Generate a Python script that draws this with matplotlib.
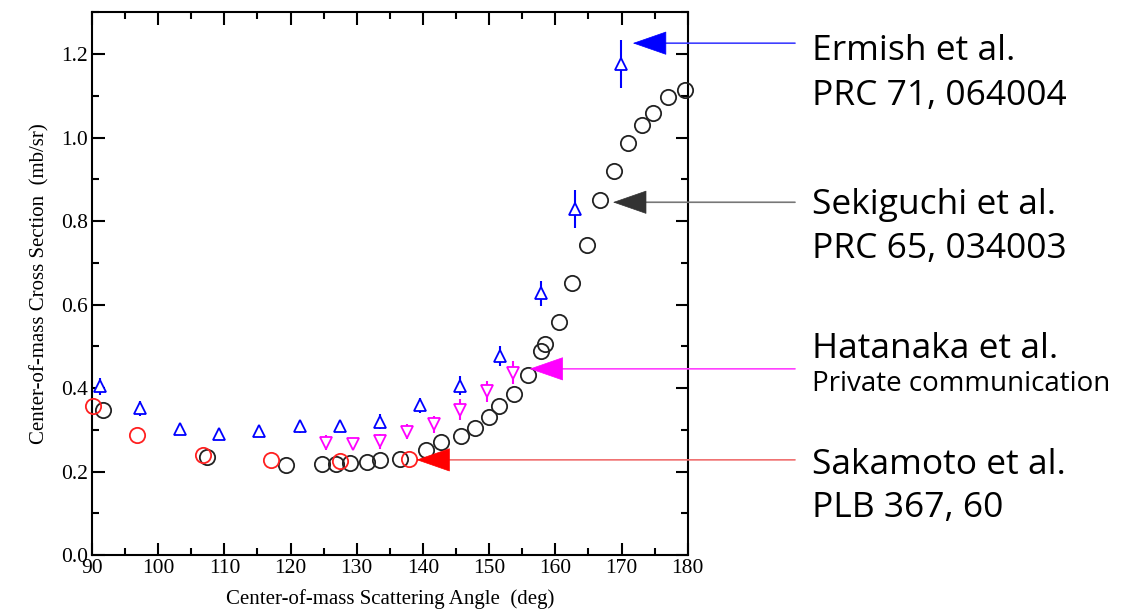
import matplotlib
matplotlib.use("Agg")
import matplotlib.pyplot as plt
from matplotlib.ticker import MultipleLocator, FormatStrFormatter
from matplotlib.transforms import blended_transform_factory

# Sekiguchi et al. (черные кружки)
sek_x = [91.7, 107.4, 119.3, 124.8, 126.9, 129.0, 131.5, 133.5, 136.5, 140.5,
         142.7, 145.7, 147.8, 149.9, 151.5, 153.7, 155.8, 157.9, 158.5, 160.5,
         162.5, 164.7, 166.7, 168.9, 170.9, 173.1, 174.8, 177.0, 179.6]
sek_y = [0.348, 0.235, 0.216, 0.219, 0.219, 0.220, 0.224, 0.228, 0.231, 0.251,
         0.270, 0.284, 0.304, 0.331, 0.357, 0.385, 0.432, 0.488, 0.506, 0.559,
         0.651, 0.743, 0.850, 0.919, 0.988, 1.030, 1.059, 1.098, 1.114]

# Sakamoto et al. (красные кружки)
sak_x = [90.1, 96.8, 106.8, 117.0, 127.5, 137.9]
sak_y = [0.358, 0.287, 0.240, 0.227, 0.226, 0.231]

# Ermish et al. (синие треугольники)
erm_x = [91.2, 97.2, 103.3, 109.2, 115.3, 121.4, 127.4, 133.5, 139.6, 145.6,
         151.7, 157.8, 162.9, 169.9]
erm_y = [0.404, 0.352, 0.303, 0.290, 0.297, 0.308, 0.309, 0.319, 0.359, 0.406,
         0.477, 0.627, 0.829, 1.176]
erm_err = [0.02, 0.018, 0.014, 0.014, 0.014, 0.015, 0.015, 0.018, 0.018, 0.022,
           0.024, 0.03, 0.045, 0.058]

# Hatanaka et al. (розовые треугольники вниз)
hat_x = [125.4, 129.4, 133.5, 137.6, 141.6, 145.6, 149.6, 153.6]
hat_y = [0.269, 0.266, 0.272, 0.295, 0.313, 0.348, 0.392, 0.437]
hat_err = [0.018, 0.015, 0.018, 0.018, 0.02, 0.025, 0.025, 0.028]

# Подписи и куда показывают стрелки
labels = [("Ermish et al.", "PRC 71, 064004"),
          ("Sekiguchi et al.", "PRC 65, 034003"),
          ("Hatanaka et al.", "Private communication"),
          ("Sakamoto et al.", "PLB 367, 60")]
arrow_x = [171.7, 168.7, 156.1, 139.0]
arrow_y = [1.226, 0.845, 0.446, 0.228]

fig = plt.figure(figsize=(11.22, 6.14), dpi=100)
ax = fig.add_axes([0.082, 0.096, 0.531, 0.884])

ax.errorbar(erm_x, erm_y, yerr=erm_err, fmt='^', ms=8, mfc='white', mec='#0000ff',
            mew=1.3, ecolor='#0000ff', elinewidth=1.5, capsize=0, zorder=3)
ax.errorbar(hat_x, hat_y, yerr=hat_err, fmt='v', ms=8, mfc='white', mec='#ff00ff',
            mew=1.3, ecolor='#ff00ff', elinewidth=1.5, capsize=0, zorder=3)
ax.plot(sek_x, sek_y, 'o', ms=11, mfc='none', mec='#222222', mew=1.3, zorder=4,
        clip_on=False)
ax.plot(sak_x, sak_y, 'o', ms=11, mfc='none', mec='#ff2020', mew=1.3, zorder=5,
        clip_on=False)

ax.set_xlim(90, 180)
ax.set_ylim(0, 1.3)
ax.xaxis.set_major_locator(MultipleLocator(10))
ax.xaxis.set_minor_locator(MultipleLocator(5))
ax.yaxis.set_major_locator(MultipleLocator(0.2))
ax.yaxis.set_minor_locator(MultipleLocator(0.1))
ax.yaxis.set_major_formatter(FormatStrFormatter('%.1f'))
ax.tick_params(which='both', direction='in', top=True, right=True, width=1.5,
               labelsize=15.5, pad=3)
ax.tick_params(which='major', length=9)
ax.tick_params(which='minor', length=5)
for lab in ax.get_xticklabels() + ax.get_yticklabels():
    lab.set_family('Liberation Serif')
for s in ax.spines.values():
    s.set_linewidth(1.5)

ax.set_xlabel("Center-of-mass Scattering Angle  (deg)", family='Liberation Serif',
              fontsize=15, labelpad=8)
ax.set_ylabel("Center-of-mass Cross Section  (mb/sr)", family='Liberation Serif',
              fontsize=15, labelpad=8)

# стрелки
arrow_colors = ['#0000ff', '#333333', '#ff00ff', '#ff0000']
line_colors = ['#4040ff', '#777777', '#ff40ff', '#f07070']
tr = blended_transform_factory(fig.transFigure, ax.transData)
for i in range(4):
    ax.annotate("", xy=(arrow_x[i], arrow_y[i]), xycoords='data',
                xytext=(795 / 1122, arrow_y[i]), textcoords=tr,
                arrowprops=dict(arrowstyle='-', color=line_colors[i], lw=1.2,
                                shrinkA=0, shrinkB=15),
                annotation_clip=False, zorder=6)
    ax.annotate("", xy=(arrow_x[i], arrow_y[i]), xycoords='data',
                xytext=(23, 0), textcoords='offset points',
                arrowprops=dict(arrowstyle='-|>,head_length=23,head_width=8',
                                mutation_scale=1, color=arrow_colors[i], lw=0.5,
                                shrinkA=0, shrinkB=0),
                annotation_clip=False, zorder=7)

# текст справа
text_y = [(60, 105), (214, 258), (358, 391), (474, 517)]
for i, (l1, l2) in enumerate(labels):
    fig.text(812 / 1122, 1 - text_y[i][0] / 614, l1, fontsize=25.5,
             family='Open Sans', va='baseline')
    fig.text(812 / 1122, 1 - text_y[i][1] / 614, l2,
             fontsize=20 if i == 2 else 25.5, family='Open Sans', va='baseline')

fig.savefig("out.png", dpi=100)
